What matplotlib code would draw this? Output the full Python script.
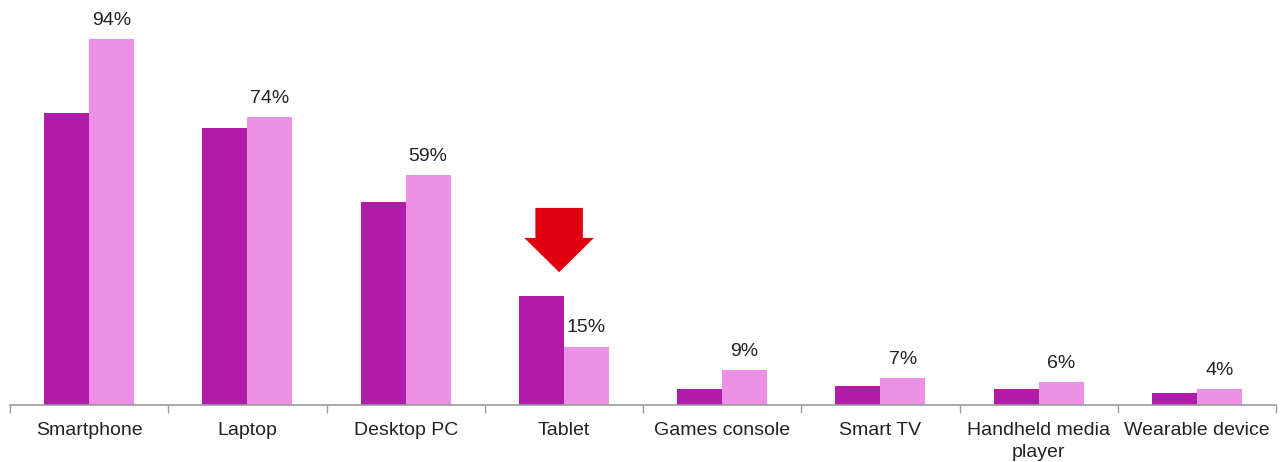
import numpy as np
import matplotlib.pyplot as plt
from matplotlib.patches import Polygon

plt.rcParams['font.family'] = ['Liberation Sans', 'DejaVu Sans']

# ----- data ----- #
categories = ['Smartphone', 'Laptop', 'Desktop PC', 'Tablet', 'Games console',
              'Smart TV', 'Handheld media\nplayer', 'Wearable device']
earlier = [75, 71, 52, 28, 4, 5, 4, 3]
latest = [94, 74, 59, 15, 9, 7, 6, 4]

dark_col = '#B01CA8'
light_col = '#EE90E6'
axis_col = '#9a9a9a'

fig = plt.figure(figsize=(12.88, 4.62), dpi=100)
ax = fig.add_axes([10/1288, 57/462, 1266/1288, (405-15.5)/462])

x = np.arange(len(categories))
w = 0.285
ax.bar(x - w/2, earlier, w, color=dark_col, linewidth=0)
ax.bar(x + w/2, latest, w, color=light_col, linewidth=0)

# value labels on the second series
for xi, v in zip(x, latest):
	ax.text(xi + w/2, v + 2.6, '%d%%' % v, ha='center', va='bottom',
			fontsize=14, color='#222222')

# red down arrow over the tablet group
ti = categories.index('Tablet')
tip = earlier[ti] + 6.1
cx = ti - 0.03
sw, hw = 0.15, 0.22   # half widths of shaft and head
hh, sl = 8.8, 7.7     # head height, shaft length
arrow = Polygon([(cx - sw, tip + hh + sl), (cx + sw, tip + hh + sl),
				 (cx + sw, tip + hh), (cx + hw, tip + hh), (cx, tip),
				 (cx - hw, tip + hh), (cx - sw, tip + hh)],
				closed=True, color='#E0000F', linewidth=0)
ax.add_patch(arrow)

ax.set_xlim(-0.5, len(categories) - 0.5)
ax.set_ylim(0, 100)

# ticks at group boundaries, labels at group centres
ax.set_xticks(np.arange(len(categories) + 1) - 0.5)
ax.set_xticklabels([])
ax.set_xticks(x, minor=True)
ax.set_xticklabels(categories, minor=True, fontsize=14, color='#222222',
				   linespacing=1.4)
ax.tick_params(axis='x', which='major', length=6, color=axis_col, width=1)
ax.tick_params(axis='x', which='minor', length=0, pad=12)
ax.set_yticks([])

for s in ['top', 'right', 'left']:
	ax.spines[s].set_visible(False)
ax.spines['bottom'].set_color(axis_col)
ax.spines['bottom'].set_linewidth(1.2)

fig.savefig('out.png', dpi=100)
